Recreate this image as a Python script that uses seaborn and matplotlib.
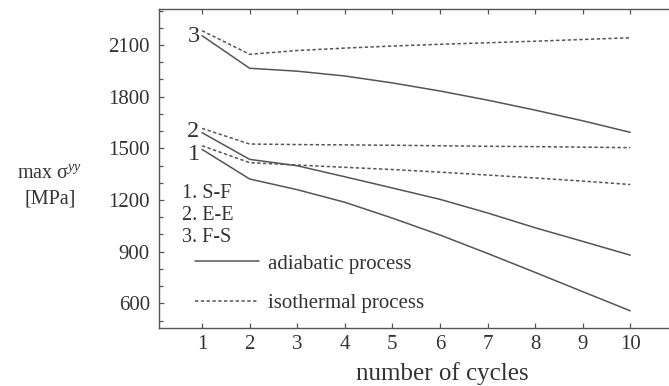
import numpy as np
import pandas as pd
import matplotlib
matplotlib.use("Agg")
import matplotlib.pyplot as plt
from matplotlib.lines import Line2D
from matplotlib.ticker import MultipleLocator
import seaborn as sns

# ---- data -------------------------------------------------------------
cycles = [1, 2, 3, 4, 5, 6, 7, 8, 9, 10]

sf_adiabatic = [1494, 1322, 1260, 1187, 1095, 997, 890, 780, 668, 557]
sf_isothermal = [1515, 1417, 1403, 1390, 1377, 1362, 1345, 1328, 1310, 1290]

ee_adiabatic = [1591, 1436, 1399, 1335, 1270, 1204, 1125, 1039, 960, 880]
ee_isothermal = [1616, 1525, 1522, 1520, 1518, 1515, 1512, 1510, 1507, 1504]

fs_adiabatic = [2154, 1965, 1948, 1920, 1880, 1833, 1780, 1722, 1660, 1593]
fs_isothermal = [2183, 2046, 2068, 2082, 2094, 2104, 2113, 2122, 2132, 2142]

case_labels = ["1. S-F", "2. E-E", "3. F-S"]
process_labels = ["adiabatic process", "isothermal process"]
y_ticks = [600, 900, 1200, 1500, 1800, 2100]

series = {
    ("1", "adiabatic"): sf_adiabatic,
    ("1", "isothermal"): sf_isothermal,
    ("2", "adiabatic"): ee_adiabatic,
    ("2", "isothermal"): ee_isothermal,
    ("3", "adiabatic"): fs_adiabatic,
    ("3", "isothermal"): fs_isothermal,
}
rows = []
for (case, proc), vals in series.items():
    for c, v in zip(cycles, vals):
        rows.append({"cycle": c, "stress": v, "case": case, "process": proc})
df = pd.DataFrame(rows)

# ---- style ------------------------------------------------------------
sns.set_style("ticks")
plt.rcParams["font.family"] = ["Liberation Serif", "DejaVu Serif"]
plt.rcParams["mathtext.fontset"] = "custom"
plt.rcParams["mathtext.rm"] = "Liberation Serif"
plt.rcParams["mathtext.it"] = "Liberation Serif:italic"

ink = "#555555"
txt = "#333333"
fs = 14.5

fig = plt.figure(figsize=(6.69, 3.86), dpi=100)
W, H = 669, 386
left_px, right_px, top_px, bottom_px = 159, 690, 9, 328
ax = fig.add_axes([left_px / W, 1 - bottom_px / H,
                   (right_px - left_px) / W, (bottom_px - top_px) / H])

line_color = "#555555"
sns.lineplot(
    data=df, x="cycle", y="stress",
    hue="case", style="process",
    palette={"1": line_color, "2": line_color, "3": line_color},
    dashes={"adiabatic": "", "isothermal": (2.2, 1.6)},
    units="case", estimator=None,
    linewidth=1.1, legend=False, ax=ax,
)

ax.set_xlim(0.095, 1 + (right_px - 201.8) / 47.6)
ax.set_ylim(457, 2309)
ax.set_xticks(cycles)
ax.set_yticks(y_ticks)
ax.yaxis.set_minor_locator(MultipleLocator(100))

ax.tick_params(axis="both", which="both", direction="in", colors=ink,
               labelcolor=txt, labelsize=fs + 0.5, width=0.9)
ax.tick_params(axis="x", which="major", length=3.5, pad=5, top=True)
ax.tick_params(axis="y", which="major", length=3.5, pad=6.5)
ax.tick_params(axis="y", which="minor", length=3)

for side in ["left", "bottom", "top"]:
    ax.spines[side].set_color(ink)
    ax.spines[side].set_linewidth(1.0)
ax.spines["right"].set_visible(False)

# axis labels
ax.set_xlabel("number of cycles", fontsize=18, color=txt, va="center")
ax.xaxis.set_label_coords((442 - left_px) / (right_px - left_px),
                          (bottom_px - 374) / (bottom_px - top_px))
ax.set_ylabel("max σ$^{yy}$\n[MPa]", rotation=0, fontsize=fs, color=txt,
              ha="center", va="center", linespacing=1.5)
ax.yaxis.set_label_coords((50 - left_px) / (right_px - left_px),
                          (bottom_px - 186) / (bottom_px - top_px))

# curve numbers near the start of each pair
for num, val in [("3", 2150), ("2", 1600), ("1", 1462)]:
    ax.text(0.82, val, num, fontsize=17.5, color=txt,
            ha="center", va="center")

# case list
for i, lab in enumerate(case_labels):
    fig.text(182 / W, 1 - (193 + 22.5 * i) / H, lab, fontsize=fs,
             color=txt, ha="left", va="center")

# process legend
handles = [Line2D([], [], color=line_color, lw=1.1),
           Line2D([], [], color=line_color, lw=1.1, dashes=(2.2, 1.6))]
leg = ax.legend(handles, process_labels, loc="upper left",
                bbox_to_anchor=(195 / W, 1 - 254 / H),
                bbox_transform=fig.transFigure,
                frameon=False, fontsize=15, borderpad=0, borderaxespad=0,
                handlelength=3.05, handletextpad=0.45, labelspacing=0.95)
for t in leg.get_texts():
    t.set_color(txt)

fig.savefig("out.png", dpi=100, facecolor="white")
